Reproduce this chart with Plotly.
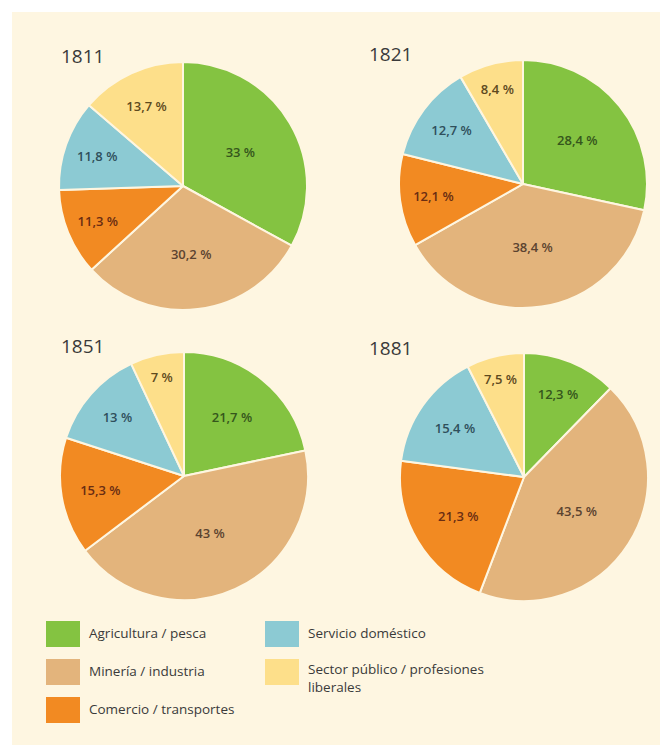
import plotly.graph_objects as go

# ---- data ----
categories = ["Agricultura / pesca", "Minería / industria", "Comercio / transportes",
              "Servicio doméstico", "Sector público / profesiones liberales"]
years = ["1811", "1821", "1851", "1881"]
v1811 = [33.0, 30.2, 11.3, 11.8, 13.7]
v1821 = [28.4, 38.4, 12.1, 12.7, 8.4]
v1851 = [21.7, 43.0, 15.3, 13.0, 7.0]
v1881 = [12.3, 43.5, 21.3, 15.4, 7.5]
series = [v1811, v1821, v1851, v1881]

colors = ["#84c341", "#e3b47c", "#f28a22", "#8ccad3", "#fddf8a"]
text_colors = ["#35561c", "#5b4330", "#6a2d12", "#2f4f5b", "#5e4a1e"]
bg = "#fef6e1"

W, H = 660, 750
R = 124
centers = [(183, 186), (523, 184), (184, 476), (524, 477)]
title_pos = [(59, 56), (367, 54), (59, 346), (367, 348)]


def fmt(v):
    s = f"{v:g}".replace(".", ",")
    return s + " %"


fig = go.Figure()
for vals, (cx, cy) in zip(series, centers):
    fig.add_trace(go.Pie(
        values=vals,
        labels=categories,
        text=[fmt(v) for v in vals],
        textinfo="text",
        texttemplate="%{text}",
        textposition="inside",
        insidetextorientation="horizontal",
        textfont=dict(family="Open Sans", size=13, color=text_colors, weight=600),
        sort=False,
        direction="clockwise",
        rotation=0,
        marker=dict(colors=colors, line=dict(color=bg, width=2)),
        domain=dict(x=[(cx - R) / W, (cx + R) / W],
                    y=[1 - (cy + R) / H, 1 - (cy - R) / H]),
        showlegend=False,
        hoverinfo="label+percent",
    ))

shapes = [dict(type="rect", xref="paper", yref="paper", layer="below",
               x0=12 / W, x1=1, y0=1 - 745 / H, y1=1 - 12 / H,
               fillcolor=bg, line=dict(width=0))]
annotations = []
for yr, (tx, ty) in zip(years, title_pos):
    annotations.append(dict(text=yr, x=tx / W, y=1 - ty / H, xref="paper", yref="paper",
                            xanchor="left", yanchor="middle", showarrow=False,
                            font=dict(family="Open Sans", size=19, color="#3a3a3a", weight=500)))

# legend (manual, two columns)
leg_boxes = [(46, 621), (46, 659), (46, 697), (265, 621), (265, 659)]
leg_text = ["Agricultura / pesca", "Minería / industria", "Comercio / transportes",
            "Servicio doméstico", "Sector público / profesiones<br>liberales"]
for i, ((bx, by), lt) in enumerate(zip(leg_boxes, leg_text)):
    shapes.append(dict(type="rect", xref="paper", yref="paper",
                       x0=bx / W, x1=(bx + 34) / W, y0=1 - (by + 26) / H, y1=1 - by / H,
                       fillcolor=colors[i], line=dict(width=0)))
    if "<br>" in lt:
        annotations.append(dict(text=lt, x=(bx + 41) / W, y=1 - (by - 1) / H,
                                xref="paper", yref="paper", xanchor="left", yanchor="top",
                                align="left", showarrow=False,
                                font=dict(family="Open Sans", size=13.5, color="#3a3a3a")))
    else:
        annotations.append(dict(text=lt, x=(bx + 41) / W, y=1 - (by + 12) / H,
                                xref="paper", yref="paper", xanchor="left", yanchor="middle",
                                showarrow=False,
                                font=dict(family="Open Sans", size=13.5, color="#3a3a3a")))

fig.update_layout(width=W, height=H, margin=dict(l=0, r=0, t=0, b=0),
                  paper_bgcolor="white", plot_bgcolor="white",
                  shapes=shapes, annotations=annotations)

fig.write_html("out.html", config={"displayModeBar": False},
               post_script="document.body.style.margin='0';document.body.style.overflow='hidden';")
